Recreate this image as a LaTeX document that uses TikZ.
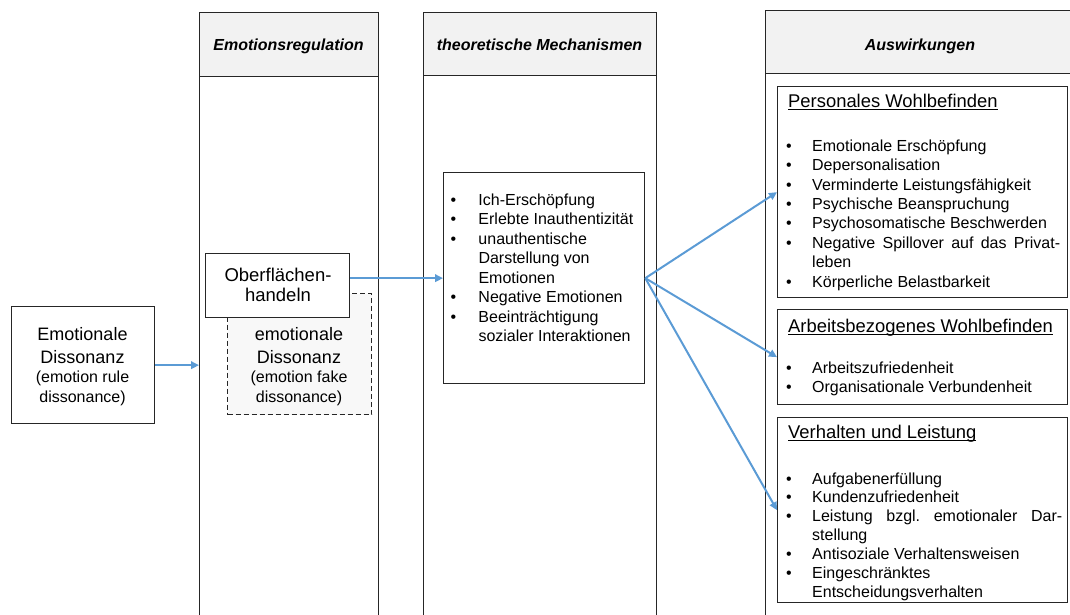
\documentclass[tikz,border=0pt]{standalone}
\usepackage{fontspec}
\setmainfont{Liberation Sans}
\usetikzlibrary{arrows.meta}

\definecolor{frame}{HTML}{262626}
\definecolor{headfill}{HTML}{F2F2F2}
\definecolor{fakefill}{HTML}{F8F8F8}
\definecolor{flow}{HTML}{5B9BD5}

\frenchspacing

% underlined box title, rule a little below the baseline
\newcommand\undl[1]{\setbox0\hbox{#1}\rlap{\rule[-2.2pt]{\wd0}{1pt}}\box0}
% bullet followed by a fixed indent
\newcommand\bul[1][26pt]{\makebox[#1][l]{\textbullet}}

\tikzset{
  colbox/.style={draw=frame, line width=1.4pt, fill=white, anchor=north west, inner sep=0pt},
  headbox/.style={draw=frame, line width=1.4pt, fill=headfill, anchor=north west, inner sep=0pt},
  headtext/.style={anchor=base, inner sep=0pt, font=\bfseries\itshape\fontsize{16}{19}\selectfont},
  plainbox/.style={draw=frame, line width=1.3pt, fill=white, anchor=north west, inner sep=0pt},
  fakebox/.style={draw=frame, line width=1.3pt, dash pattern=on 5pt off 3pt, fill=fakefill, anchor=north west, inner sep=0pt},
  boxtitle/.style={anchor=base west, inner sep=0pt, font=\fontsize{18.4}{22}\selectfont},
  listtext/.style={anchor=base west, inner sep=0pt},
  midtext/.style={anchor=base, inner sep=0pt, align=center},
  flowarrow/.style={draw=flow, line width=2pt, -{Triangle[length=8pt,width=7.5pt]}},
}

\begin{document}
\begin{tikzpicture}[x=1pt,y=-1pt]
\useasboundingbox (0,0) rectangle (1070,614);

% three columns with grey header strips
\node[colbox, minimum width=179pt, minimum height=650pt] (c1) at (199,12) {};
\node[headbox, minimum width=179pt, minimum height=64pt] (h1) at (199,12) {};
\node[headtext] (h1t) at (288.5,50.7) {Emotionsregulation};

\node[colbox, minimum width=233pt, minimum height=650pt] (c2) at (423,12) {};
\node[headbox, minimum width=233pt, minimum height=63pt] (h2) at (423,12) {};
\node[headtext] (h2t) at (539.5,50.7) {theoretische Mechanismen};

\node[colbox, minimum width=311pt, minimum height=650pt] (c3) at (765,10) {};
\node[headbox, minimum width=311pt, minimum height=63pt] (h3) at (765,10) {};
\node[headtext] (h3t) at (920,50) {Auswirkungen};

% starting point on the left
\node[plainbox, minimum width=143pt, minimum height=117pt] (d1) at (11,306) {};
\node[midtext] (d1t) at (82.5,340.7) {%
  \fontsize{18}{21.6}\selectfont
  \begin{tabular}[t]{@{}c@{}}
  Emotionale\\[1pt]
  Dissonanz\\[-2.9pt]
  \fontsize{16}{19}\selectfont (emotion rule\\[-0.9pt]
  \fontsize{16}{19}\selectfont dissonance)
  \end{tabular}};

% emotion regulation: dashed box behind the surface acting box
\node[fakebox, minimum width=144pt, minimum height=121pt] (fk) at (227,293) {};
\node[midtext] (fkt) at (299,340.7) {%
  \fontsize{18}{21.6}\selectfont
  \begin{tabular}[t]{@{}c@{}}
  emotionale\\[1pt]
  Dissonanz\\[-2.9pt]
  \fontsize{16}{19}\selectfont (emotion fake\\[-0.9pt]
  \fontsize{16}{19}\selectfont dissonance)
  \end{tabular}};

\node[plainbox, minimum width=144pt, minimum height=64pt] (oh) at (205,253) {};
\node[midtext] (oht) at (278,281.7) {%
  \fontsize{18.5}{20}\selectfont
  \begin{tabular}[t]{@{}c@{}}Oberflächen-\\handeln\end{tabular}};

% mechanisms
\node[plainbox, minimum width=201pt, minimum height=211pt] (mech) at (443,172) {};
\node[listtext] (mecht) at (450.5,205) {%
  \fontsize{16}{19.5}\selectfont
  \begin{tabular}[t]{@{}l@{}}
  \bul[27.8pt]Ich-Erschöpfung\\
  \bul[27.8pt]Erlebte Inauthentizität\\
  \bul[27.8pt]unauthentische\\
  \hspace*{27.8pt}Darstellung von\\
  \hspace*{27.8pt}Emotionen\\
  \bul[27.8pt]Negative Emotionen\\
  \bul[27.8pt]Beeinträchtigung\\
  \hspace*{27.8pt}sozialer Interaktionen
  \end{tabular}};

% outcomes
\node[plainbox, minimum width=290pt, minimum height=211pt] (pw) at (777,86) {};
\node[boxtitle] (pwt) at (788,107.7) {\undl{Personales Wohlbefinden}};
\node[listtext] (pwl) at (786,151.3) {%
  \fontsize{16}{19.4}\selectfont
  \begin{tabular}[t]{@{}l@{}}
  \bul Emotionale Erschöpfung\\
  \bul Depersonalisation\\
  \bul Verminderte Leistungsfähigkeit\\
  \bul Psychische Beanspruchung\\
  \bul Psychosomatische Beschwerden\\
  \bul\makebox[248pt][s]{Negative Spillover auf das Privat-}\\
  \hspace*{26pt}leben\\
  \bul Körperliche Belastbarkeit
  \end{tabular}};

\node[plainbox, minimum width=290pt, minimum height=95pt] (ab) at (777,309) {};
\node[boxtitle] (abt) at (788,332.7) {\undl{Arbeitsbezogenes Wohlbefinden}};
\node[listtext] (abl) at (786,373.3) {%
  \fontsize{16}{19.4}\selectfont
  \begin{tabular}[t]{@{}l@{}}
  \bul Arbeitszufriedenheit\\
  \bul Organisationale Verbundenheit
  \end{tabular}};

\node[plainbox, minimum width=290pt, minimum height=185pt] (vl) at (777,417) {};
\node[boxtitle] (vlt) at (788,438.3) {\undl{Verhalten und Leistung}};
\node[listtext] (vll) at (786,484) {%
  \fontsize{16}{18.9}\selectfont
  \begin{tabular}[t]{@{}l@{}}
  \bul Aufgabenerfüllung\\
  \bul Kundenzufriedenheit\\
  \bul\makebox[250pt][s]{Leistung bzgl. emotionaler Dar-}\\
  \hspace*{26pt}stellung\\
  \bul Antisoziale Verhaltensweisen\\
  \bul Eingeschränktes\\
  \hspace*{26pt}Entscheidungsverhalten
  \end{tabular}};

% connectors
\draw[flowarrow] (d1.east) -- (d1.east -| c1.west);
\draw[flowarrow] (oh.east |- mech.west) -- (mech.west);
\draw[flowarrow] (mech.east) -- (pw.west);
\draw[flowarrow] (mech.east) -- (ab.west);
\draw[flowarrow] (mech.east) -- (vl.west);
\end{tikzpicture}
\end{document}
